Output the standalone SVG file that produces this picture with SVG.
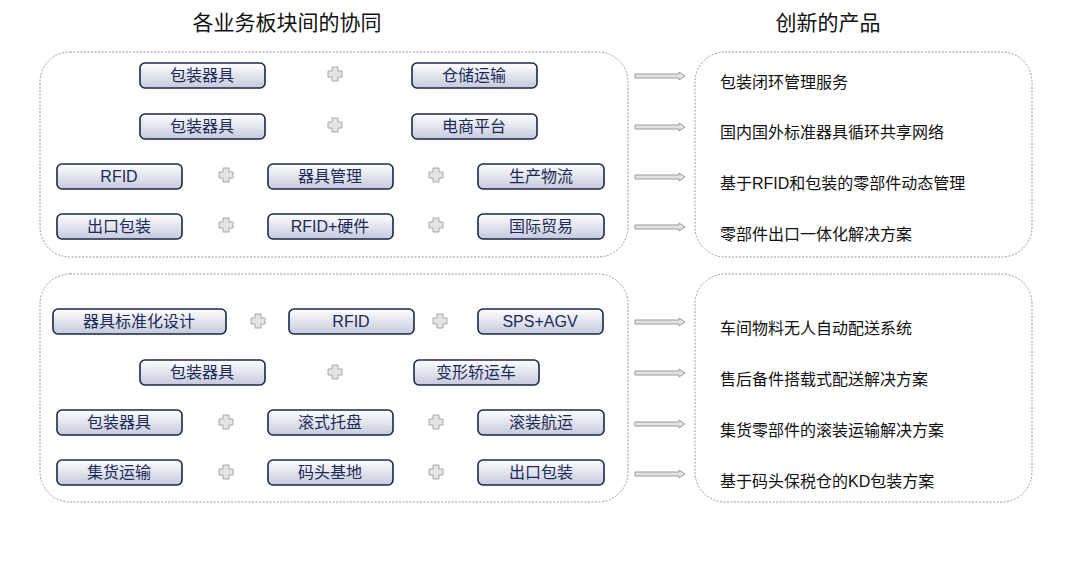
<svg xmlns="http://www.w3.org/2000/svg" width="1070" height="561" viewBox="0 0 1070 561">
<style>
text{font-family:"Liberation Sans","Noto Sans CJK SC",sans-serif}
.t{font-size:21px;fill:#111;text-anchor:middle}
.panel{fill:#fff;stroke:#8f9aae;stroke-width:1;stroke-dasharray:2 1.5}
.b rect{fill:url(#g);stroke:#1c2748;stroke-width:1.6}
.b text{font-size:16px;fill:#1c2a58;text-anchor:middle}
.p{fill:#e4e4e4;stroke:#a8a8a8;stroke-width:1}
.r{font-size:16px;fill:#111}
.a{fill:#e2e2e2;stroke:#9a9a9a;stroke-width:1}
</style>
<defs>
<linearGradient id="g" x1="0" y1="0" x2="0" y2="1"><stop offset="0" stop-color="#ffffff"/><stop offset="1" stop-color="#c5c9dc"/></linearGradient>
<path id="plus" d="M-3,-7 H3 V-3 H7 V3 H3 V7 H-3 V3 H-7 V-3 H-3 Z"/>
<path id="arr" d="M0,-2 H44 V-4 L50,0 L44,4 V2 H0 Z"/>
</defs>
<rect width="1070" height="561" fill="#fff"/>
<text class="t" x="287" y="30">各业务板块间的协同</text>
<text class="t" x="828" y="30">创新的产品</text>
<g id="panels">
<rect class="panel" x="40" y="52" width="588" height="205" rx="30"/>
<rect class="panel" x="695" y="52" width="337" height="205" rx="30"/>
<rect class="panel" x="40" y="274" width="588" height="228" rx="30"/>
<rect class="panel" x="695" y="274" width="337" height="228" rx="30"/>
</g>
<g id="b1" class="b"><rect x="140" y="63" width="125" height="25" rx="5"/><text x="202" y="81">包装器具</text></g>
<g id="b2" class="b"><rect x="412" y="63" width="125" height="25" rx="5"/><text x="474" y="81">仓储运输</text></g>
<g id="b3" class="b"><rect x="140" y="114" width="125" height="25" rx="5"/><text x="202" y="132">包装器具</text></g>
<g id="b4" class="b"><rect x="412" y="114" width="125" height="25" rx="5"/><text x="474" y="132">电商平台</text></g>
<g id="b5" class="b"><rect x="57" y="164" width="125" height="25" rx="5"/><text x="119" y="182">RFID</text></g>
<g id="b6" class="b"><rect x="268" y="164" width="125" height="25" rx="5"/><text x="330" y="182">器具管理</text></g>
<g id="b7" class="b"><rect x="478" y="164" width="126" height="25" rx="5"/><text x="541" y="182">生产物流</text></g>
<g id="b8" class="b"><rect x="57" y="214" width="125" height="25" rx="5"/><text x="119" y="232">出口包装</text></g>
<g id="b9" class="b"><rect x="268" y="214" width="125" height="25" rx="5"/><text x="330" y="232">RFID+硬件</text></g>
<g id="b10" class="b"><rect x="478" y="214" width="126" height="25" rx="5"/><text x="541" y="232">国际贸易</text></g>
<g id="b11" class="b"><rect x="53" y="309" width="173" height="25" rx="5"/><text x="139" y="327">器具标准化设计</text></g>
<g id="b12" class="b"><rect x="289" y="309" width="125" height="25" rx="5"/><text x="351" y="327">RFID</text></g>
<g id="b13" class="b"><rect x="478" y="309" width="125" height="25" rx="5"/><text x="540" y="327">SPS+AGV</text></g>
<g id="b14" class="b"><rect x="140" y="360" width="125" height="25" rx="5"/><text x="202" y="378">包装器具</text></g>
<g id="b15" class="b"><rect x="414" y="360" width="125" height="25" rx="5"/><text x="476" y="378">变形轿运车</text></g>
<g id="b16" class="b"><rect x="57" y="410" width="125" height="25" rx="5"/><text x="119" y="428">包装器具</text></g>
<g id="b17" class="b"><rect x="268" y="410" width="125" height="25" rx="5"/><text x="330" y="428">滚式托盘</text></g>
<g id="b18" class="b"><rect x="478" y="410" width="126" height="25" rx="5"/><text x="541" y="428">滚装航运</text></g>
<g id="b19" class="b"><rect x="57" y="460" width="125" height="25" rx="5"/><text x="119" y="478">集货运输</text></g>
<g id="b20" class="b"><rect x="268" y="460" width="125" height="25" rx="5"/><text x="330" y="478">码头基地</text></g>
<g id="b21" class="b"><rect x="478" y="460" width="126" height="25" rx="5"/><text x="541" y="478">出口包装</text></g>
<g id="plusses">
<use href="#plus" class="p" x="335" y="74"/><use href="#plus" class="p" x="335" y="125"/>
<use href="#plus" class="p" x="226" y="175"/><use href="#plus" class="p" x="436" y="175"/>
<use href="#plus" class="p" x="226" y="225"/><use href="#plus" class="p" x="436" y="225"/>
<use href="#plus" class="p" x="258" y="321"/><use href="#plus" class="p" x="440" y="321"/>
<use href="#plus" class="p" x="335" y="372"/>
<use href="#plus" class="p" x="226" y="422"/><use href="#plus" class="p" x="436" y="422"/>
<use href="#plus" class="p" x="226" y="472"/><use href="#plus" class="p" x="436" y="472"/>
</g>
<g id="connectors">
<use href="#arr" class="a" x="635" y="76"/><use href="#arr" class="a" x="635" y="127"/>
<use href="#arr" class="a" x="635" y="177"/><use href="#arr" class="a" x="635" y="227"/>
<use href="#arr" class="a" x="635" y="322"/><use href="#arr" class="a" x="635" y="373"/>
<use href="#arr" class="a" x="635" y="424"/><use href="#arr" class="a" x="635" y="474"/>
</g>
<g id="products">
<text class="r" x="720" y="88">包装闭环管理服务</text>
<text class="r" x="720" y="138">国内国外标准器具循环共享网络</text>
<text class="r" x="720" y="189">基于RFID和包装的零部件动态管理</text>
<text class="r" x="720" y="240">零部件出口一体化解决方案</text>
<text class="r" x="720" y="334">车间物料无人自动配送系统</text>
<text class="r" x="720" y="385">售后备件搭载式配送解决方案</text>
<text class="r" x="720" y="436">集货零部件的滚装运输解决方案</text>
<text class="r" x="720" y="487">基于码头保税仓的KD包装方案</text>
</g>
</svg>
